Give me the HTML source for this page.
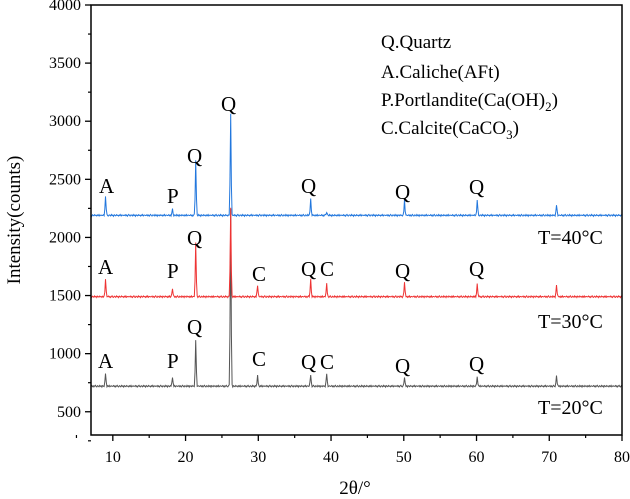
<!DOCTYPE html>
<html><head><meta charset="utf-8"><style>
body{margin:0;background:#fff}
svg{display:block;font-family:"Liberation Serif",serif}
</style></head><body>
<svg id="chart" width="630" height="499" font-family="Liberation Serif, serif">
<g id="plot"></g>
<g font-size="19" fill="#000">
<text x="355" y="494" text-anchor="middle">2θ/°</text>
<text transform="translate(20,220) rotate(-90)" text-anchor="middle">Intensity(counts)</text>
<g font-size="19">
<text x="381" y="48">Q.Quartz</text>
<text x="381" y="78">A.Caliche(AFt)</text>
<text x="381" y="106">P.Portlandite(Ca(OH)<tspan font-size="13" dy="5">2</tspan><tspan dy="-5">)</tspan></text>
<text x="381" y="134">C.Calcite(CaCO<tspan font-size="13" dy="5">3</tspan><tspan dy="-5">)</tspan></text>
</g>
<g font-size="20">
<text x="538" y="244">T=40°C</text>
<text x="538" y="328">T=30°C</text>
<text x="538" y="414">T=20°C</text>
</g>
<g font-size="21">
<text x="99" y="193">A</text><text x="167" y="203">P</text><text x="187" y="163">Q</text><text x="221" y="111">Q</text>
<text x="301" y="193">Q</text><text x="395" y="199">Q</text><text x="469" y="194">Q</text>
<text x="98" y="274">A</text><text x="167" y="278">P</text><text x="187" y="245">Q</text><text x="252" y="281">C</text>
<text x="301" y="276">Q</text><text x="320" y="276">C</text><text x="395" y="278">Q</text><text x="469" y="276">Q</text>
<text x="98" y="368">A</text><text x="167" y="368">P</text><text x="187" y="334">Q</text><text x="252" y="366">C</text>
<text x="301" y="369">Q</text><text x="320" y="369">C</text><text x="395" y="373">Q</text><text x="469" y="371">Q</text>
</g>
</g>
</svg>
<script>
const xTicks=[10,20,30,40,50,60,70,80];
const yTicks=[500,1000,1500,2000,2500,3000,3500,4000];
const peakPos=[9.0,18.2,21.4,26.2,29.9,37.2,39.4,50.1,60.1,71.0];
const peaks20=[110,80,400,1520,90,100,110,80,80,90];
const peaks30=[150,70,460,760,100,150,110,130,110,100];
const peaks40=[170,50,480,880,0,140,30,130,130,90];
const baseLevels=[720,1490,2190];
const noise=[0,6,-4,3,-7,2,8,-3,-6,4,1,-5,7,-2,3,-8,5,0,-4,6,-1,2,-6,4,-3,7,-5,1,3,-2];
const seriesColors=['#555555','#ee3333','#2277dd'];
const seriesNames=['series-20c','series-30c','series-40c'];
const L=91,R=622,T=5,B=435,X0=7,X1=80,Y0=300,Y1=4000;
const sx=v=>L+(v-X0)/(X1-X0)*(R-L);
const sy=v=>B-(v-Y0)/(Y1-Y0)*(B-T);
const NS='http://www.w3.org/2000/svg';
const g=document.getElementById('plot');
function mk(t,a,txt){const e=document.createElementNS(NS,t);for(const k in a)e.setAttribute(k,a[k]);if(txt!=null)e.textContent=txt;g.appendChild(e);return e;}
const allPeaks=[peaks20,peaks30,peaks40];
for(let s=0;s<3;s++){
  let d='';let i=0;
  for(let x=X0;x<=X1+1e-9;x+=0.1,i++){
    let v=baseLevels[s]+noise[(i+s*7)%noise.length];
    for(let p=0;p<peakPos.length;p++){const dx=(x-peakPos[p])/0.09;v+=allPeaks[s][p]*Math.exp(-dx*dx);}
    d+=(i?'L':'M')+sx(x).toFixed(1)+' '+sy(v).toFixed(1);
  }
  const e=mk('path',{d:d,fill:'none',stroke:seriesColors[s],'stroke-width':1});
  
  
}
const fr=mk('rect',{x:L,y:T,width:R-L,height:B-T,fill:'none',stroke:'#000','stroke-width':1.5});


xTicks.forEach(v=>{
  mk('line',{x1:sx(v),x2:sx(v),y1:B,y2:B+6,stroke:'#000','stroke-width':1.3});
  mk('line',{x1:sx(v-5),x2:sx(v-5),y1:B,y2:B+3,stroke:'#000','stroke-width':1.2});
  const t=mk('text',{x:sx(v),y:B+27,'text-anchor':'middle','font-size':16,'font-family':'Liberation Serif, serif'},String(v));
  
  
});
yTicks.forEach(v=>{
  mk('line',{x1:L-6,x2:L,y1:sy(v),y2:sy(v),stroke:'#000','stroke-width':1.3});
  mk('line',{x1:L-3,x2:L,y1:sy(v-250),y2:sy(v-250),stroke:'#000','stroke-width':1.2});
  const t=mk('text',{x:L-10,y:sy(v)+5,'text-anchor':'end','font-size':16,'font-family':'Liberation Serif, serif'},String(v));
  
  
});
</script>
</body></html>
